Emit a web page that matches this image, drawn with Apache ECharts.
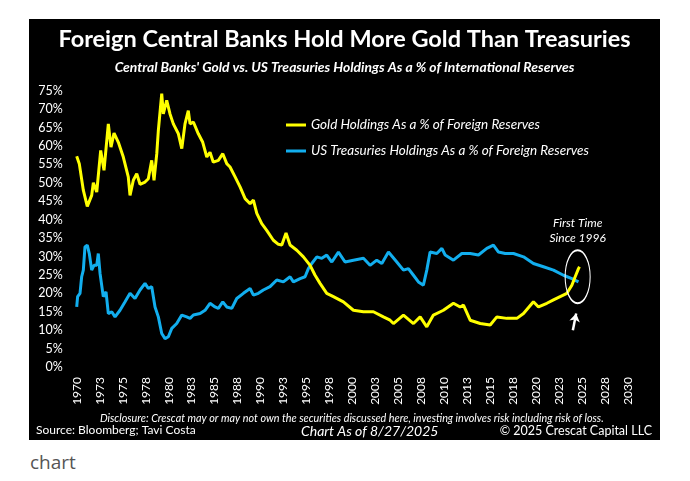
<!DOCTYPE html>
<html>
<head>
<meta charset="utf-8">
<script src="https://cdn.jsdelivr.net/npm/echarts@6/dist/echarts.min.js"></script>
<style>
  html, body { margin: 0; padding: 0; background: #fff; }
  #main { position: absolute; left: 29px; top: 19px; width: 631px; height: 421px; background: #000; }
  #cap { position: absolute; left: 30px; top: 449px; font: 19px "Open Sans", sans-serif; color: #555; }
</style>
</head>
<body>
<div id="main"></div>
<div id="cap">chart</div>
<script>
// gold holdings, % of foreign reserves
var goldYears = [1970.0, 1970.28, 1970.72, 1971.15, 1971.63, 1971.81, 1972.18, 1972.61, 1972.97, 1973.44,
  1973.73, 1974.06, 1974.53, 1975.07, 1975.61, 1975.8, 1976.16, 1976.53, 1976.89, 1977.43,
  1977.79, 1978.16, 1978.41, 1978.71, 1978.88, 1979.25, 1979.42, 1979.79, 1980.15, 1980.51,
  1981.06, 1981.43, 1981.78, 1982.14, 1982.33, 1982.69, 1983.23, 1983.71, 1984.15, 1984.5,
  1984.86, 1985.41, 1985.89, 1986.32, 1986.68, 1987.23, 1987.77, 1988.32, 1988.86, 1989.22,
  1989.59, 1990.13, 1990.67, 1991.39, 1991.94, 1992.31, 1992.77, 1993.21, 1993.94, 1994.66,
  1995.39, 1995.93, 1996.47, 1997.2, 1997.92, 1999.01, 2000.1, 2001.19, 2002.27, 2003.36,
  2004.09, 2004.45, 2005.54, 2006.63, 2007.36, 2008.08, 2008.8, 2009.89, 2010.98, 2011.71,
  2012.07, 2012.8, 2013.89, 2014.98, 2015.7, 2016.79, 2017.88, 2018.6, 2019.68, 2020.23,
  2021.14, 2021.86, 2022.59, 2023.32, 2023.86, 2024.22, 2024.58, 2024.69];
var goldValues = [57.2, 55.2, 48, 43.6, 46.6, 50, 47.5, 58.8, 53.4, 66,
  59.7, 63.5, 61, 57, 51.6, 46.6, 50.7, 52.5, 49.6, 50.2,
  51.1, 56.1, 50.7, 57.9, 64.2, 74.2, 68.7, 72.4, 68.7, 66,
  63.3, 59.3, 66, 69.6, 66, 66.5, 63.3, 61, 57, 58.3,
  55.6, 56.1, 57.9, 55.2, 54.3, 51.6, 48.9, 45.7, 44.3, 45.3,
  41.7, 38.9, 37.1, 34.4, 33.3, 33.1, 36.4, 33.1, 31.7, 29.9,
  27.6, 24.9, 22.7, 20, 19.1, 17.7, 15.4, 15, 15, 13.6,
  12.7, 11.8, 14.1, 11.8, 13.6, 10.9, 14.1, 15.4, 17.3, 16.3,
  16.8, 12.7, 11.8, 11.4, 13.6, 13.2, 13.2, 14.5, 17.7, 16.3,
  17.3, 18.2, 19.1, 20, 22.2, 24.5, 26.7, 27.2];

// US treasuries holdings, % of foreign reserves
var tsyYears = [1970.0, 1970.1, 1970.36, 1970.54, 1970.72, 1970.9, 1971.15, 1971.37, 1971.63, 1971.88,
  1972.18, 1972.35, 1972.54, 1972.89, 1973.19, 1973.44, 1973.81, 1974.17, 1974.71, 1975.26,
  1975.8, 1976.34, 1976.89, 1977.43, 1977.79, 1978.16, 1978.52, 1978.88, 1979.25, 1979.61,
  1979.97, 1980.34, 1980.88, 1981.43, 1981.97, 1982.33, 1982.69, 1983.42, 1983.96, 1984.5,
  1985.05, 1985.41, 1985.89, 1986.32, 1986.87, 1987.41, 1988.13, 1988.86, 1989.22, 1989.76,
  1990.3, 1991.03, 1991.76, 1992.48, 1993.21, 1993.57, 1994.3, 1994.84, 1995.2, 1995.57,
  1996.12, 1996.66, 1997.2, 1997.75, 1998.47, 1999.19, 2000.1, 2001.19, 2001.91, 2002.64,
  2003.19, 2003.91, 2004.82, 2005.54, 2006.08, 2006.63, 2007.17, 2007.71, 2008.08, 2008.44,
  2009.17, 2009.72, 2010.08, 2010.98, 2011.89, 2012.8, 2013.7, 2014.61, 2015.33, 2015.88,
  2016.61, 2017.51, 2018.6, 2019.68, 2020.77, 2021.86, 2022.95, 2023.86, 2024.58];
var tsyValues = [16.3, 19.1, 20, 24.5, 26.3, 32.6, 33.1, 30.8, 26.3, 27.6,
  27.6, 30.8, 25.4, 19.1, 20.4, 14.5, 15, 13.6, 15.4, 17.7,
  20, 18.6, 20.9, 22.7, 21.3, 21.8, 16.3, 13.6, 9.1, 7.7,
  8.2, 10.5, 11.8, 14.1, 13.6, 13.2, 14.1, 14.5, 15.4, 17.3,
  16.3, 15.9, 17.7, 16.3, 15.9, 18.6, 20, 21.3, 19.5, 20,
  20.9, 21.8, 23.6, 23.1, 24.5, 23.1, 24, 24.5, 26.7, 28.1,
  29.9, 29.5, 30.4, 28.5, 31.2, 28.5, 29, 29.5, 27.6, 29,
  28.1, 31.2, 28.5, 26.3, 26.7, 24.9, 23.1, 22.2, 26.3, 31.2,
  30.8, 32.2, 30.4, 29, 30.8, 30.8, 30.4, 32.2, 33.1, 31.2,
  30.8, 30.8, 29.9, 28.1, 27.2, 26.3, 24.9, 24, 23.1];

var seriesNames = ['Gold Holdings As a % of Foreign Reserves', 'US Treasuries Holdings As a % of Foreign Reserves'];
var seriesColors = ['#FFFF00', '#12AEEE'];

function pairs(xs, ys) {
  return xs.map(function (x, i) { return [x, ys[i]]; });
}

var font = 'Lato, "Open Sans", sans-serif';
var myChart = echarts.init(document.getElementById('main'));
var option = {
  animation: false,
  backgroundColor: '#000',
  textStyle: { fontFamily: font },
  title: [
    { text: 'Foreign Central Banks Hold More Gold Than Treasuries', left: 'center', top: 3,
      textStyle: { color: '#fff', fontSize: 23.5, fontWeight: 'bold', fontFamily: font } },
    { text: "Central Banks' Gold vs. US Treasuries Holdings As a % of International Reserves", left: 'center', top: 37,
      textStyle: { color: '#fff', fontSize: 13.9, fontWeight: 'bold', fontStyle: 'italic', fontFamily: font } },
    { text: 'Disclosure: Crescat may or may not own the securities discussed here, investing involves risk including risk of loss.',
      left: 66, top: 389,
      textStyle: { color: '#fff', fontSize: 10.8, fontWeight: 'normal', fontStyle: 'italic', fontFamily: font } },
    { text: 'Source: Bloomberg; Tavi Costa', left: 2, top: 400,
      textStyle: { color: '#fff', fontSize: 12, fontWeight: 'normal', fontFamily: font } },
    { text: 'Chart As of 8/27/2025', left: 267, top: 400,
      textStyle: { color: '#fff', fontSize: 14, fontWeight: 'normal', fontStyle: 'italic', fontFamily: font } },
    { text: '\u00a9 2025 Crescat Capital LLC', right: 3, top: 400,
      textStyle: { color: '#fff', fontSize: 12.5, fontWeight: 'normal', fontFamily: font } }
  ],
  legend: {
    orient: 'vertical', left: 252, top: 94, itemGap: 12,
    itemWidth: 20, itemHeight: 3, icon: 'rect',
    textStyle: { color: '#fff', fontSize: 13.5, fontStyle: 'italic', fontFamily: font },
    data: seriesNames
  },
  grid: { left: 47.7, right: 31.7, top: 71.7, bottom: 73, outerBoundsMode: 'none' },
  xAxis: {
    type: 'value', min: 1970, max: 2030, interval: 2.5,
    axisLine: { show: false }, axisTick: { show: false }, splitLine: { show: false },
    axisLabel: { color: '#fff', fontSize: 12, rotate: 90, margin: 10, fontFamily: font,
      formatter: function (v) { return String(Math.round(v)); } }
  },
  yAxis: {
    type: 'value', min: 0, max: 75, interval: 5,
    axisLine: { show: false }, axisTick: { show: false }, splitLine: { show: false },
    axisLabel: { color: '#fff', fontSize: 12.5, margin: 14, fontFamily: font, formatter: '{value}%' }
  },
  series: [
    {
      name: seriesNames[0], type: 'line', data: pairs(goldYears, goldValues),
      showSymbol: false, symbol: 'none', color: seriesColors[0], z: 3,
      lineStyle: { width: 3, color: seriesColors[0] },
      markPoint: {
        silent: true,
        data: [
          { coord: [2024.49, 24.5], symbol: 'circle', symbolSize: [25, 53],
            itemStyle: { color: 'rgba(0,0,0,0)', borderColor: '#fff', borderWidth: 1.5 },
            label: { show: false } },
          { coord: [2024.49, 36.9], symbol: 'circle', symbolSize: 1,
            itemStyle: { color: 'rgba(0,0,0,0)' },
            label: { show: true, position: 'inside', formatter: 'First Time\nSince 1996', color: '#fff',
              fontSize: 12, fontStyle: 'italic', lineHeight: 15, fontFamily: font } }
        ]
      },
      markLine: {
        silent: true, symbolSize: 8,
        lineStyle: { color: '#fff', width: 2.5, type: 'solid' },
        label: { show: false },
        data: [[{ coord: [2023.97, 10], symbol: 'none' }, { coord: [2024.33, 14.5], symbol: 'arrow' }]]
      }
    },
    {
      name: seriesNames[1], type: 'line', data: pairs(tsyYears, tsyValues),
      showSymbol: false, symbol: 'none', color: seriesColors[1], z: 2,
      lineStyle: { width: 3, color: seriesColors[1] }
    }
  ]
};
myChart.setOption(option);
</script>
</body>
</html>
